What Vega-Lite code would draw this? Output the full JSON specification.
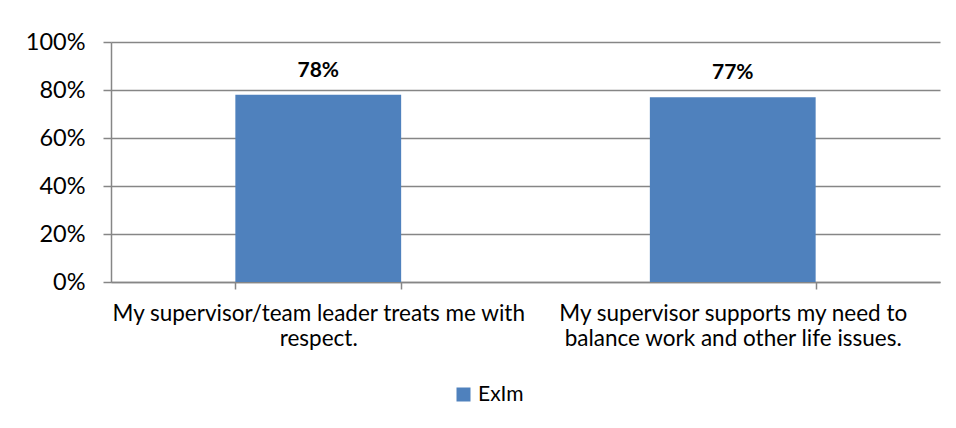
{
  "$schema": "https://vega.github.io/schema/vega-lite/v6.json",
  "autosize": {"type": "none"},
  "width": 829,
  "height": 240,
  "padding": {"left": 111, "top": 42, "right": 16, "bottom": 146},
  "background": "white",
  "data": {"values": [
    {"question": "My supervisor/team leader treats me with respect.", "series": "ExIm", "value": 0.78},
    {"question": "My supervisor supports my need to balance work and other life issues.", "series": "ExIm", "value": 0.77}
  ]},
  "config": {
    "font": "Lato",
    "view": {"stroke": null},
    "axis": {"labelColor": "black", "domainColor": "#868686", "tickColor": "#868686", "gridColor": "#868686", "gridWidth": 1.5, "domainWidth": 1.5, "tickWidth": 1.5}
  },
  "encoding": {
    "x": {"field": "question", "type": "nominal", "sort": null,
      "scale": {"paddingInner": 0.6, "paddingOuter": 0.3},
      "axis": {"title": null, "labelAngle": 0, "tickBand": "extent", "tickSize": 7, "labelFontSize": 22.5, "labelPadding": 13, "labelLineHeight": 25, "labelLimit": 500,
        "labelExpr": "datum.value == 'My supervisor/team leader treats me with respect.' ? ['My supervisor/team leader treats me with', 'respect.'] : datum.value == 'My supervisor supports my need to balance work and other life issues.' ? ['My supervisor supports my need to', 'balance work and other life issues.'] : ''"}},
    "y": {"field": "value", "type": "quantitative",
      "scale": {"domain": [0, 1]},
      "axis": {"title": null, "format": ".0%", "values": [0, 0.2, 0.4, 0.6, 0.8, 1], "tickSize": 8, "labelFontSize": 23.5, "labelPadding": 18}}
  },
  "layer": [
    {"mark": {"type": "bar", "color": "#4F81BD"},
     "encoding": {"color": {"field": "series", "type": "nominal", "scale": {"range": ["#4F81BD"]},
       "legend": {"title": null, "orient": "none", "legendX": 342, "legendY": 342, "symbolType": "square", "symbolSize": 196, "symbolStrokeWidth": 0, "labelFontSize": 21, "labelColor": "black", "labelOffset": 4}}}},
    {"mark": {"type": "text", "fontWeight": "bold", "fontSize": 21, "baseline": "alphabetic", "dy": -18, "color": "black"},
     "encoding": {"text": {"field": "value", "type": "quantitative", "format": ".0%"}}}
  ]
}
